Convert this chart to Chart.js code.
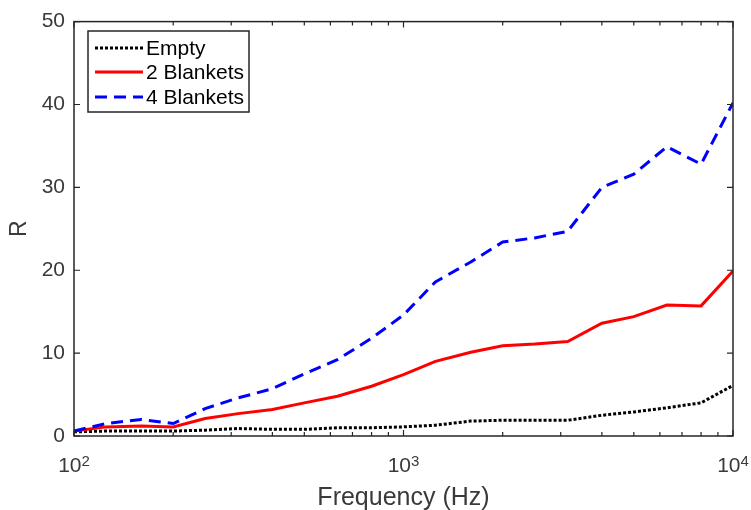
<!DOCTYPE html>
<html>
<head>
<meta charset="utf-8">
<script src="https://cdn.jsdelivr.net/npm/chart.js@4"></script>
<style>
  html, body { margin: 0; padding: 0; background: #fff; }
  canvas { display: block; }
</style>
</head>
<body>
<canvas id="myChart" width="751" height="510"></canvas>
<script>
// third-octave band centres (Hz)
const freqs = [100, 125, 160, 200, 250, 315, 400, 500, 630, 800, 1000, 1250, 1600, 2000, 2500, 3150, 4000, 5000, 6300, 8000, 10000];

const emptyR    = [0.5, 0.6, 0.6, 0.6, 0.7, 0.9, 0.8, 0.8, 1.0, 1.0, 1.1, 1.3, 1.8, 1.9, 1.9, 1.9, 2.5, 2.9, 3.4, 4.0, 6.1];
const blanket2R = [0.6, 1.1, 1.2, 1.1, 2.1, 2.7, 3.2, 4.0, 4.8, 6.0, 7.4, 9.0, 10.1, 10.9, 11.1, 11.4, 13.6, 14.4, 15.8, 15.7, 19.9];
const blanket4R = [0.6, 1.5, 2.0, 1.5, 3.3, 4.6, 5.7, 7.5, 9.2, 11.8, 14.6, 18.6, 21.0, 23.4, 23.9, 24.7, 30.0, 31.6, 34.9, 32.8, 40.2];

const seriesNames = ['Empty', '2 Blankets', '4 Blankets'];
const xMajorTicks = [100, 1000, 10000];
const xMajorExp = ['2', '3', '4'];
const xMinorTicks = [200, 300, 400, 500, 600, 700, 800, 900, 2000, 3000, 4000, 5000, 6000, 7000, 8000, 9000];
const yTicks = [0, 10, 20, 30, 40, 50];

const axisColor = '#262626';
const labelColor = '#3a3a3a';
const fontFamily = 'Arial, "Liberation Sans", Helvetica, sans-serif';

function toPoints(values) {
    return freqs.map((f, i) => ({ x: f, y: values[i] }));
}

// MATLAB-like box, inward ticks, superscript x labels and inset legend
const matlabAxes = {
    id: 'matlabAxes',
    afterDraw(chart) {
        const ctx = chart.ctx;
        const area = chart.chartArea;
        const xs = chart.scales.x;
        const ys = chart.scales.y;
        ctx.save();

        // box
        ctx.strokeStyle = axisColor;
        ctx.lineWidth = 1.5;
        ctx.setLineDash([]);
        ctx.strokeRect(area.left, area.top, area.right - area.left, area.bottom - area.top);

        // x ticks
        ctx.lineWidth = 1.2;
        const drawXTick = (v, len) => {
            const px = xs.getPixelForValue(v);
            ctx.beginPath();
            ctx.moveTo(px, area.bottom);
            ctx.lineTo(px, area.bottom - len);
            ctx.moveTo(px, area.top);
            ctx.lineTo(px, area.top + len);
            ctx.stroke();
        };
        xMajorTicks.forEach(v => drawXTick(v, 6));
        xMinorTicks.forEach(v => drawXTick(v, 4));

        // y ticks
        yTicks.forEach(v => {
            const py = ys.getPixelForValue(v);
            ctx.beginPath();
            ctx.moveTo(area.left, py);
            ctx.lineTo(area.left + 6, py);
            ctx.moveTo(area.right, py);
            ctx.lineTo(area.right - 6, py);
            ctx.stroke();
        });

        // x tick labels, 10^n
        ctx.fillStyle = labelColor;
        ctx.textBaseline = 'alphabetic';
        xMajorTicks.forEach((v, i) => {
            const px = xs.getPixelForValue(v);
            ctx.font = '21px ' + fontFamily;
            const baseW = ctx.measureText('10').width;
            ctx.font = '15px ' + fontFamily;
            const expW = ctx.measureText(xMajorExp[i]).width;
            const start = px - (baseW + expW) / 2;
            ctx.font = '21px ' + fontFamily;
            ctx.textAlign = 'left';
            ctx.fillText('10', start, area.bottom + 36);
            ctx.font = '15px ' + fontFamily;
            ctx.fillText(xMajorExp[i], start + baseW, area.bottom + 30);
        });

        // legend
        const lx = 88, ly = 31, lw = 161, lh = 81;
        ctx.fillStyle = '#fff';
        ctx.fillRect(lx, ly, lw, lh);
        ctx.strokeStyle = axisColor;
        ctx.lineWidth = 1.5;
        ctx.strokeRect(lx, ly, lw, lh);
        const rows = [48, 72, 97];
        chart.data.datasets.forEach((ds, i) => {
            const y = rows[i];
            ctx.strokeStyle = ds.borderColor;
            ctx.lineWidth = ds.borderWidth;
            ctx.setLineDash(ds.borderDash || []);
            ctx.beginPath();
            ctx.moveTo(95, y);
            ctx.lineTo(143, y);
            ctx.stroke();
            ctx.setLineDash([]);
            ctx.fillStyle = '#000';
            ctx.font = '21px ' + fontFamily;
            ctx.textAlign = 'left';
            ctx.textBaseline = 'middle';
            ctx.fillText(ds.label, 146, y + 1);
        });

        ctx.restore();
    }
};

function createChart() {
    const ctx = document.getElementById('myChart').getContext('2d');
    new Chart(ctx, {
        type: 'line',
        data: {
            datasets: [
                {
                    label: seriesNames[0],
                    data: toPoints(emptyR),
                    borderColor: '#000000',
                    borderWidth: 3,
                    borderDash: [3, 2],
                    order: 3
                },
                {
                    label: seriesNames[1],
                    data: toPoints(blanket2R),
                    borderColor: '#ff0000',
                    borderWidth: 3,
                    order: 2
                },
                {
                    label: seriesNames[2],
                    data: toPoints(blanket4R),
                    borderColor: '#0000ff',
                    borderWidth: 3,
                    borderDash: [12, 7],
                    order: 1
                }
            ]
        },
        options: {
            responsive: false,
            animation: false,
            devicePixelRatio: 1,
            elements: {
                point: { radius: 0 },
                line: { tension: 0, fill: false }
            },
            layout: {
                padding: { top: 16, right: 18, left: 0, bottom: 0 }
            },
            scales: {
                x: {
                    type: 'logarithmic',
                    min: 100,
                    max: 10000,
                    grid: { display: false },
                    border: { display: false },
                    ticks: { display: false },
                    title: {
                        display: true,
                        text: 'Frequency (Hz)',
                        color: labelColor,
                        font: { family: fontFamily, size: 25 },
                        padding: { top: 0, bottom: -3 }
                    },
                    afterFit: scale => { scale.height = 74; }
                },
                y: {
                    min: 0,
                    max: 50,
                    grid: { display: false, drawTicks: false },
                    border: { display: false },
                    ticks: {
                        stepSize: 10,
                        padding: 9,
                        color: labelColor,
                        font: { family: fontFamily, size: 21 }
                    },
                    title: {
                        display: true,
                        text: 'R',
                        color: labelColor,
                        font: { family: fontFamily, size: 23 },
                        padding: { top: 6, bottom: 0 }
                    },
                    afterFit: scale => { scale.width = 74; }
                }
            },
            plugins: {
                legend: { display: false },
                tooltip: { enabled: false }
            }
        },
        plugins: [matlabAxes]
    });
}

document.addEventListener('DOMContentLoaded', createChart);
</script>
</body>
</html>
